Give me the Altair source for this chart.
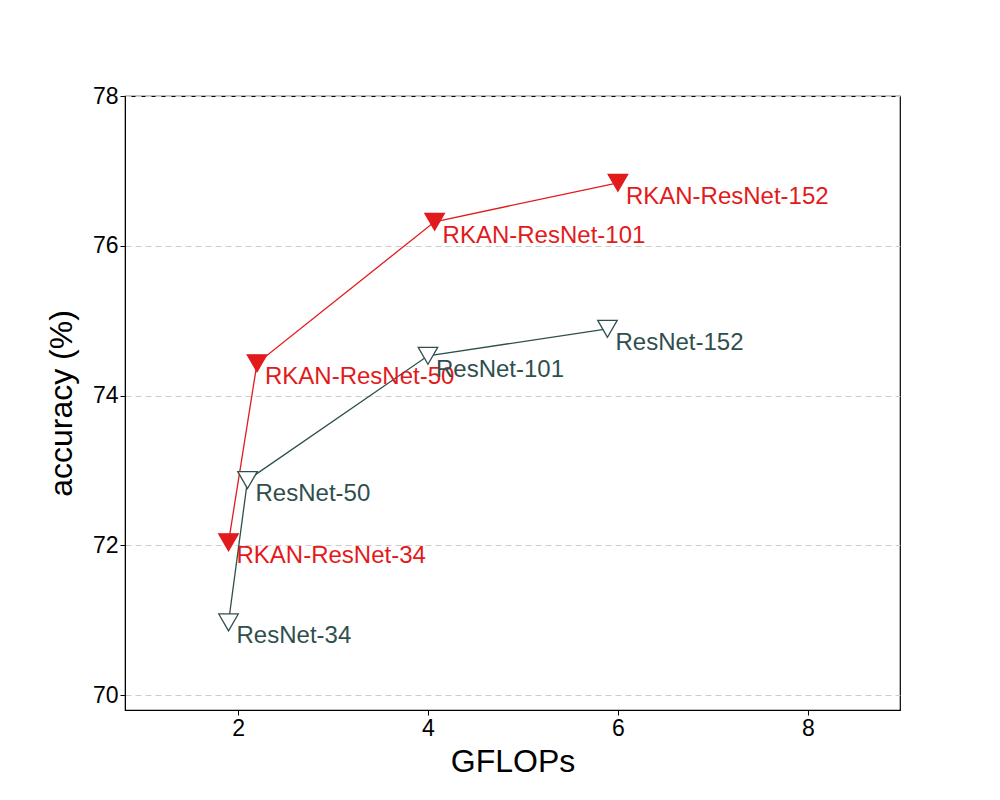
import altair as alt
import pandas as pd

series = ["RKAN-ResNets"] * 4 + ["ResNets"] * 4
gflops = [1.9, 2.2, 4.07, 6.0, 1.9, 2.1, 4.0, 5.89]
acc = [72.04, 74.43, 76.32, 76.84, 70.97, 72.87, 74.53, 74.89]
names = ["RKAN-ResNet-34", "RKAN-ResNet-50", "RKAN-ResNet-101", "RKAN-ResNet-152",
         "ResNet-34", "ResNet-50", "ResNet-101", "ResNet-152"]

df = pd.DataFrame({"series": series, "gflops": gflops, "acc": acc, "name": names})

RED = "#e31a1c"
SLATE = "#2f4f4f"
FONT = "Liberation Sans"

x = alt.X("gflops:Q", title="GFLOPs",
          scale=alt.Scale(domain=[0.81, 8.97], nice=False, zero=False),
          axis=alt.Axis(values=[2, 4, 6, 8], grid=False, tickSize=5, tickColor="black",
                        labelFontSize=23, titleFontSize=32, labelFont=FONT, titleFont=FONT,
                        titleFontWeight="normal", labelColor="black", titleColor="black",
                        domain=True, domainColor="black", titlePadding=6))
y = alt.Y("acc:Q", title="accuracy (%)",
          scale=alt.Scale(domain=[69.8, 78], nice=False, zero=False),
          axis=alt.Axis(values=[70, 72, 74, 76, 78], grid=True, gridDash=[6, 4],
                        gridColor="#cccccc", tickSize=5, tickColor="black",
                        labelFontSize=23, titleFontSize=32, labelFont=FONT, titleFont=FONT,
                        titleFontWeight="normal", labelColor="black", titleColor="black",
                        domain=True, domainColor="black", titlePadding=14))

order = ["RKAN-ResNets", "ResNets"]
col = alt.Color("series:N", scale=alt.Scale(domain=order, range=[RED, SLATE]), legend=None)

base = alt.Chart(df)
lines = base.mark_line(strokeWidth=1.3).encode(x=x, y=y, color=col, detail="series:N")
points = base.mark_point(shape="triangle-down", size=380, strokeWidth=1.3, opacity=1).encode(
    x=x, y=y,
    stroke=alt.Stroke("series:N", scale=alt.Scale(domain=order, range=[RED, SLATE]),
                      legend=alt.Legend(title=None)),
    fill=alt.Fill("series:N", scale=alt.Scale(domain=order, range=[RED, "white"]),
                  legend=alt.Legend(title=None)),
)
labels = base.mark_text(align="left", baseline="top", dx=8, dy=2, fontSize=24, font=FONT).encode(
    x=x, y=y, text="name:N", color=col)

chart = alt.layer(lines, points, labels).properties(
    width=775, height=614,
    autosize=alt.AutoSizeParams(type="none"),
    padding={"left": 117, "top": 88, "right": 92, "bottom": 80},
).configure_view(stroke="black", strokeWidth=1.2, fill="white").configure_legend(
    orient="bottom-right", offset=18, strokeColor="#333333", fillColor="white",
    padding=12, cornerRadius=3, labelFontSize=26, labelFont=FONT, labelColor="black",
    symbolSize=380, symbolStrokeWidth=1.3, rowPadding=8, labelOffset=40
)

chart.save("out.html", embed_options={"renderer": "svg", "actions": False})
